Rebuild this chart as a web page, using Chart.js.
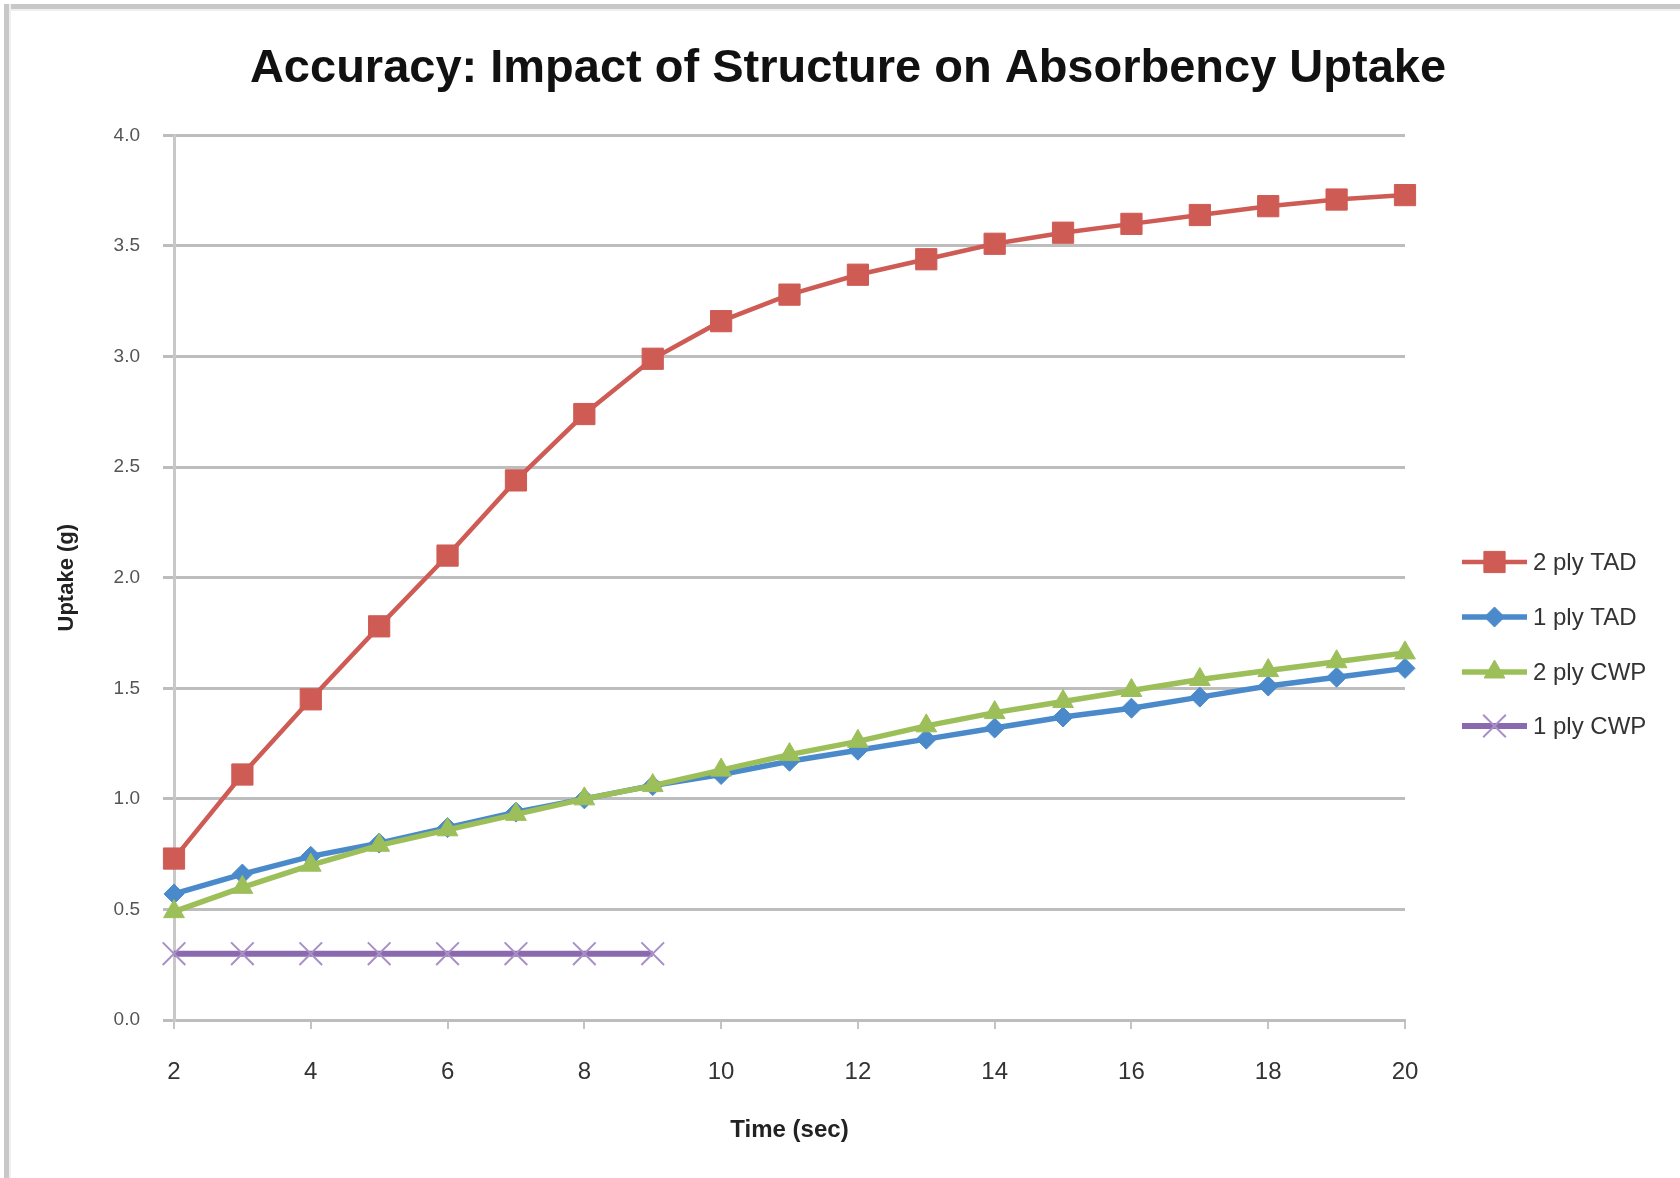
<!DOCTYPE html>
<html>
<head>
<meta charset="utf-8">
<script src="https://cdn.jsdelivr.net/npm/chart.js@4/dist/chart.umd.min.js"></script>
<style>
  html, body { margin: 0; padding: 0; background: #ffffff; }
  #wrap { position: relative; width: 1680px; height: 1178px; overflow: hidden; background: #fff; }
  #chart { position: absolute; left: 0; top: 0; }
  #frameTop { position: absolute; left: 4px; top: 4px; width: 1676px; height: 5px; background: #c8c8c8; border-bottom: 2px solid #efefef; }
  #frameLeft { position: absolute; left: 4px; top: 4px; width: 5px; height: 1174px; background: #c8c8c8; border-right: 2px solid #efefef; }
</style>
</head>
<body>
<div id="wrap">
  <canvas id="chart" width="1680" height="1178"></canvas>
  <div id="frameTop"></div>
  <div id="frameLeft"></div>
</div>
<script>
// ---- Data ----
const chartTitle = 'Accuracy: Impact of Structure on Absorbency Uptake';
const xAxisTitle = 'Time (sec)';
const yAxisTitle = 'Uptake (g)';

const timeSec = [2, 3, 4, 5, 6, 7, 8, 9, 10, 11, 12, 13, 14, 15, 16, 17, 18, 19, 20];
const timeSecCWP1 = [2, 3, 4, 5, 6, 7, 8, 9];

const ply2TAD = [0.73, 1.11, 1.45, 1.78, 2.10, 2.44, 2.74, 2.99, 3.16, 3.28, 3.37, 3.44, 3.51, 3.56, 3.60, 3.64, 3.68, 3.71, 3.73];
const ply1TAD = [0.57, 0.66, 0.74, 0.80, 0.87, 0.94, 1.00, 1.06, 1.11, 1.17, 1.22, 1.27, 1.32, 1.37, 1.41, 1.46, 1.51, 1.55, 1.59];
const ply2CWP = [0.49, 0.60, 0.70, 0.79, 0.86, 0.93, 1.00, 1.06, 1.13, 1.20, 1.26, 1.33, 1.39, 1.44, 1.49, 1.54, 1.58, 1.62, 1.66];
const ply1CWP = [0.30, 0.30, 0.30, 0.30, 0.30, 0.30, 0.30, 0.30];

const seriesNames = ['2 ply TAD', '1 ply TAD', '2 ply CWP', '1 ply CWP'];

const xTickMin = 2, xTickMax = 20, xTickStep = 2;
const yTickMin = 0, yTickMax = 4, yTickStep = 0.5;

// ---- Build chart ----
const FONT = "'Liberation Sans', Arial, sans-serif";
function pts(xs, ys) { return ys.map((v, i) => ({ x: xs[i], y: v })); }

const styles = [
  { color: '#cf5b55', style: 'rect',     radius: 15, lw: 4.5, bw: 1,   pb: '#cf5b55' },
  { color: '#4a8acb', style: 'rectRot',  radius: 10, lw: 5.5, bw: 1,   pb: '#4a8acb' },
  { color: '#9cbf5a', style: 'triangle', radius: 12, lw: 5.5, bw: 1,   pb: '#9cbf5a' },
  { color: '#8b69ae', style: 'crossRot', radius: 16, lw: 6,   bw: 2,   pb: '#a88fc6' }
];
const seriesData = [pts(timeSec, ply2TAD), pts(timeSec, ply1TAD), pts(timeSec, ply2CWP), pts(timeSecCWP1, ply1CWP)];
const drawOrder = [4, 3, 2, 1];

const datasets = seriesNames.map((name, i) => ({
  label: name,
  data: seriesData[i],
  borderColor: styles[i].color,
  backgroundColor: styles[i].color,
  borderWidth: styles[i].lw,
  pointStyle: styles[i].style,
  pointRadius: styles[i].radius,
  pointBorderWidth: styles[i].bw,
  pointBackgroundColor: styles[i].color,
  pointBorderColor: styles[i].pb,
  tension: 0,
  clip: false,
  order: drawOrder[i]
}));

const legendLayout = { lineX0: 1462, lineX1: 1527, textX: 1533, ys: [562, 617, 672, 726] };

const customLegend = {
  id: 'customLegend',
  afterDraw(chart) {
    const ctx = chart.ctx;
    ctx.save();
    chart.data.datasets.forEach((ds, i) => {
      const y = legendLayout.ys[i];
      ctx.strokeStyle = ds.borderColor;
      ctx.lineWidth = ds.borderWidth;
      ctx.beginPath();
      ctx.moveTo(legendLayout.lineX0, y);
      ctx.lineTo(legendLayout.lineX1, y);
      ctx.stroke();
      ctx.fillStyle = ds.pointBackgroundColor;
      ctx.strokeStyle = ds.pointBorderColor;
      ctx.lineWidth = ds.pointBorderWidth;
      Chart.helpers.drawPoint(ctx, { pointStyle: ds.pointStyle, radius: ds.pointRadius, rotation: 0, borderWidth: ds.pointBorderWidth },
        (legendLayout.lineX0 + legendLayout.lineX1) / 2, y);
      ctx.fillStyle = '#333333';
      ctx.font = '24px ' + FONT;
      ctx.textBaseline = 'middle';
      ctx.textAlign = 'left';
      ctx.fillText(ds.label, legendLayout.textX, y + 1);
    });
    ctx.restore();
  }
};

new Chart(document.getElementById('chart'), {
  type: 'line',
  data: { datasets },
  options: {
    responsive: false,
    animation: false,
    devicePixelRatio: 1,
    layout: { padding: { left: 16, right: 0, top: 0, bottom: 0 } },
    plugins: {
      legend: { display: false },
      tooltip: { enabled: false },
      title: {
        display: true,
        text: chartTitle,
        color: '#111111',
        font: { family: FONT, size: 47, weight: 'bold', lineHeight: 1.2 },
        padding: { top: 41, bottom: 38 }
      }
    },
    scales: {
      x: {
        type: 'linear',
        min: xTickMin, max: xTickMax,
        ticks: { stepSize: xTickStep, color: '#333333', font: { family: FONT, size: 24 }, padding: 29, maxRotation: 0 },
        grid: { drawOnChartArea: false, drawTicks: true, tickLength: 9, color: '#c4c4c4', lineWidth: 2 },
        border: { display: true, color: '#bdbdbd', width: 3 },
        title: { display: true, text: xAxisTitle, color: '#222222', font: { family: FONT, size: 24, weight: 'bold' }, padding: { bottom: 33 } },
        afterFit(s) { s.height = 158; }
      },
      y: {
        type: 'linear',
        min: yTickMin, max: yTickMax,
        ticks: { stepSize: yTickStep, color: '#555555', font: { family: FONT, size: 19 }, padding: 23, callback: v => Number(v).toFixed(1) },
        grid: { color: '#bdbdbd', lineWidth: 3, tickLength: 11 },
        border: { display: true, color: '#c8c8c8', width: 3 },
        title: { display: true, text: yAxisTitle, color: '#222222', font: { family: FONT, size: 22, weight: 'bold' }, padding: { top: 38 } },
        afterFit(s) { s.width = 158; }
      },
      yRightSpace: {
        type: 'linear',
        position: 'right',
        display: true,
        ticks: { display: false },
        grid: { display: false, drawTicks: false },
        border: { display: false },
        afterFit(s) { s.width = 275; }
      }
    }
  },
  plugins: [customLegend]
});
</script>
</body>
</html>
